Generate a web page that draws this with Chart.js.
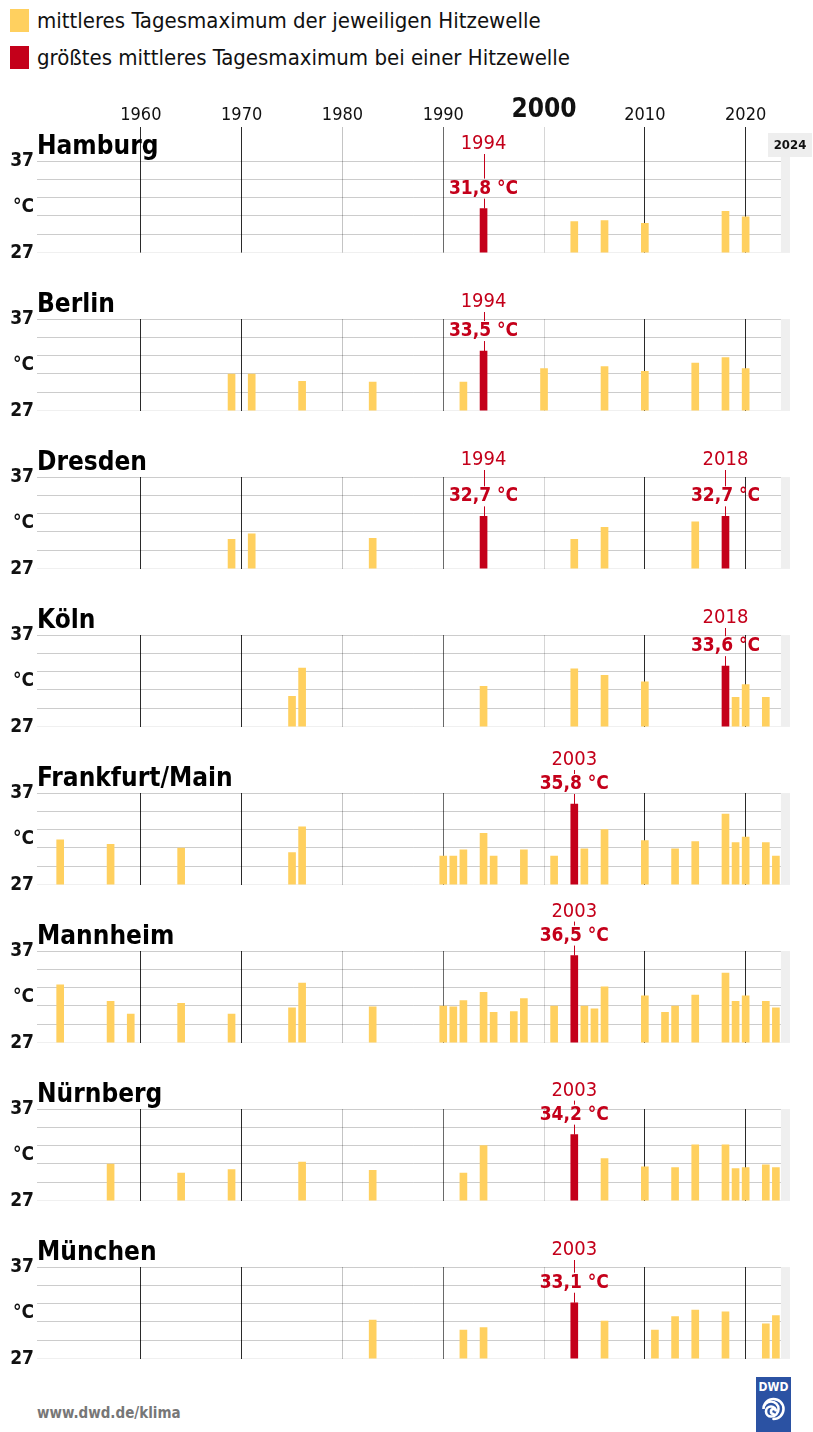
<!DOCTYPE html>
<html lang="de">
<head>
<meta charset="utf-8">
<title>Hitzewellen</title>
<script src="https://cdn.jsdelivr.net/npm/chart.js@4.4.1/dist/chart.umd.min.js"></script>
<style>
    html, body {
        margin: 0;
        padding: 0;
        background: #fff;
        font-family: 'DejaVu Sans Condensed', 'DejaVu Sans', sans-serif;
    }
    #page {
        position: relative;
        width: 813px;
        height: 1432px;
        overflow: hidden;
    }
    .legend-row {
        position: absolute;
        left: 10px;
        height: 23px;
        display: flex;
        align-items: center;
        font-size: 22px;
        color: #111;
        white-space: nowrap;
    }
    .legend-row span.box {
        display: inline-block;
        width: 19px;
        height: 23px;
        margin-right: 8px;
    }
    .panel {
        position: absolute;
        left: 0;
        width: 813px;
    }
    #footer {
        position: absolute;
        left: 37px;
        top: 1404px;
        font-size: 15px;
        font-weight: bold;
        color: #777;
    }
    #logo {
        position: absolute;
        left: 756px;
        top: 1377px;
        width: 35px;
        height: 60px;
        background: #2b52a3;
        color: #fff;
        font-weight: bold;
        font-size: 12px;
        text-align: center;
    }
</style>
</head>
<body>
<div id="page">
    <div class="legend-row" style="top: 9px;"><span class="box" style="background:#ffd05f"></span>mittleres Tagesmaximum der jeweiligen Hitzewelle</div>
    <div class="legend-row" style="top: 46px;"><span class="box" style="background:#c4001a"></span>größtes mittleres Tagesmaximum bei einer Hitzewelle</div>
    <div id="panels"></div>
    <div id="footer">www.dwd.de/klima</div>
    <div id="logo">
        <div style="padding-top:3px;">DWD</div>
        <svg width="35" height="40" viewBox="0 0 35 40">
            <path d="M17.5 20 a2.5 2.5 0 1 1 2.5 -2.5 a5 5 0 1 0 -5 5 a7.5 7.5 0 1 0 -7.5 -7.5 a10 10 0 1 1 10 10"
                  fill="none" stroke="#fff" stroke-width="2.6" stroke-linecap="round"/>
        </svg>
    </div>
</div>

<script>
const cities = ['Hamburg', 'Berlin', 'Dresden', 'Köln', 'Frankfurt/Main', 'Mannheim', 'Nürnberg', 'München'];

const hamburgYears = [1994, 2003, 2006, 2010, 2018, 2020];
const hamburgTemps = [31.8, 30.4, 30.5, 30.2, 31.5, 30.9];

const berlinYears = [1969, 1971, 1976, 1983, 1992, 1994, 2000, 2006, 2010, 2015, 2018, 2020];
const berlinTemps = [31.0, 31.0, 30.2, 30.1, 30.1, 33.5, 31.6, 31.8, 31.3, 32.2, 32.8, 31.6];

const dresdenYears = [1969, 1971, 1983, 1994, 2003, 2006, 2015, 2018];
const dresdenTemps = [30.2, 30.8, 30.3, 32.7, 30.2, 31.5, 32.1, 32.7];

const koelnYears = [1975, 1976, 1994, 2003, 2006, 2010, 2018, 2019, 2020, 2022];
const koelnTemps = [30.3, 33.4, 31.4, 33.3, 32.6, 31.9, 33.6, 30.2, 31.6, 30.2];

const frankfurtYears = [1952, 1957, 1964, 1975, 1976, 1990, 1991, 1992, 1994, 1995, 1998, 2001, 2003, 2004,
    2006, 2010, 2013, 2015, 2018, 2019, 2020, 2022, 2023];
const frankfurtTemps = [31.9, 31.4, 31.0, 30.5, 33.3, 30.1, 30.1, 30.8, 32.6, 30.1, 30.8, 30.1, 35.8, 30.9,
    33.0, 31.8, 30.9, 31.7, 34.7, 31.6, 32.2, 31.6, 30.1];

const mannheimYears = [1952, 1957, 1959, 1964, 1969, 1975, 1976, 1983, 1990, 1991, 1992, 1994, 1995, 1997,
    1998, 2001, 2003, 2004, 2005, 2006, 2010, 2012, 2013, 2015, 2018, 2019, 2020, 2022, 2023];
const mannheimTemps = [33.3, 31.5, 30.1, 31.3, 30.1, 30.8, 33.5, 30.9, 31.0, 30.9, 31.6, 32.5, 30.3, 30.4,
    31.8, 31.0, 36.5, 31.0, 30.7, 33.1, 32.1, 30.3, 31.0, 32.2, 34.6, 31.5, 32.1, 31.5, 30.8];

const nuernbergYears = [1957, 1964, 1969, 1976, 1983, 1992, 1994, 2003, 2006, 2010, 2013, 2015, 2018, 2019,
    2020, 2022, 2023];
const nuernbergTemps = [31.0, 30.0, 30.4, 31.2, 30.3, 30.0, 33.0, 34.2, 31.6, 30.7, 30.6, 33.1, 33.1, 30.5,
    30.6, 30.9, 30.6];

const muenchenYears = [1983, 1992, 1994, 2003, 2006, 2011, 2013, 2015, 2018, 2022, 2023];
const muenchenTemps = [31.2, 30.1, 30.4, 33.1, 31.1, 30.1, 31.6, 32.3, 32.1, 30.8, 31.7];

const decadeTicks = [1960, 1970, 1980, 1990, 2000, 2010, 2020];
const currentYear = 2024;
const yMin = 27;
const yMax = 37;

const panelYears = [hamburgYears, berlinYears, dresdenYears, koelnYears, frankfurtYears, mannheimYears,
    nuernbergYears, muenchenYears];
const panelTemps = [hamburgTemps, berlinTemps, dresdenTemps, koelnTemps, frankfurtTemps, mannheimTemps,
    nuernbergTemps, muenchenTemps];

const YELLOW = '#ffd05f';
const RED = '#c4001a';
const FONT = "'DejaVu Sans Condensed', 'DejaVu Sans', sans-serif";

const AREA_TOP = 161;
const PANEL_STEP = 158;
const AREA_HEIGHT = 96;
const AXIS_SPACE = 70;
const TOP_SPACE = 52;
const BOTTOM_SPACE = 10;

const gridColors = {
    1960: '#2a2a2a',
    1970: '#2a2a2a',
    1980: '#c4c4c4',
    1990: '#6a6a6a',
    2000: '#d6d6d6',
    2010: '#2a2a2a',
    2020: '#2a2a2a',
};

function formatTemp(value) {
    return `${value.toFixed(1).replace('.', ',')} °C`;
}

// title, grey band for the running year and the peak annotations
const panelDecor = {
    id: 'panelDecor',
    beforeDatasetsDraw(chart) {
        const { ctx, chartArea, scales } = chart;
        const opts = chart.options.plugins.panelDecor;
        const x0 = scales.x.getPixelForValue(currentYear - 0.5);
        const top = opts.first ? chartArea.top - 24 : chartArea.top;
        ctx.save();
        ctx.fillStyle = '#efefef';
        ctx.fillRect(x0, top, chartArea.right - x0, chartArea.bottom - top);
        ctx.restore();
    },
    afterDraw(chart) {
        const { ctx, chartArea, scales } = chart;
        const opts = chart.options.plugins.panelDecor;
        const years = opts.years;
        const temps = opts.temps;
        const peak = Math.max(...temps);

        ctx.save();

        if (opts.first) {
            const cx = chartArea.right;
            ctx.fillStyle = '#eeeeee';
            ctx.fillRect(cx - 22, chartArea.top - 28, 44, 24);
            ctx.fillStyle = '#111';
            ctx.font = `bold 13px ${FONT}`;
            ctx.textAlign = 'center';
            ctx.textBaseline = 'middle';
            ctx.fillText(String(currentYear), cx, chartArea.top - 15);
        }

        ctx.fillStyle = '#000';
        ctx.font = `bold 26px ${FONT}`;
        ctx.textAlign = 'left';
        ctx.textBaseline = 'alphabetic';
        ctx.fillText(opts.title, chartArea.left, chartArea.top - 7);

        years.forEach((year, i) => {
            if (temps[i] !== peak) {
                return;
            }
            const x = scales.x.getPixelForValue(year);
            const barTop = scales.y.getPixelForValue(temps[i]);
            const valueY = barTop - 20;
            const yearY = Math.min(chartArea.top - 17, valueY - 24);

            ctx.strokeStyle = RED;
            ctx.lineWidth = 1;
            ctx.beginPath();
            ctx.moveTo(Math.round(x) + 0.5, yearY + 10);
            ctx.lineTo(Math.round(x) + 0.5, valueY - 10);
            ctx.moveTo(Math.round(x) + 0.5, valueY + 10);
            ctx.lineTo(Math.round(x) + 0.5, barTop);
            ctx.stroke();

            ctx.fillStyle = RED;
            ctx.textAlign = 'center';
            ctx.textBaseline = 'middle';
            ctx.font = `20px ${FONT}`;
            ctx.fillText(String(year), x, yearY);
            ctx.font = `bold 19px ${FONT}`;
            ctx.fillText(formatTemp(temps[i]), x, valueY);
        });

        ctx.restore();
    },
};

function buildPanel(index) {
    const first = index === 0;
    const years = panelYears[index];
    const temps = panelTemps[index];
    const peak = Math.max(...temps);
    const areaTop = AREA_TOP + index * PANEL_STEP;
    const headSpace = first ? AXIS_SPACE : TOP_SPACE;

    const wrap = document.createElement('div');
    wrap.className = 'panel';
    wrap.style.top = `${areaTop - headSpace}px`;
    wrap.style.height = `${headSpace + AREA_HEIGHT + BOTTOM_SPACE}px`;
    const canvas = document.createElement('canvas');
    wrap.appendChild(canvas);
    document.getElementById('panels').appendChild(wrap);

    return new Chart(canvas.getContext('2d'), {
        type: 'bar',
        data: {
            datasets: [{
                data: years.map((year, i) => ({ x: year, y: temps[i] })),
                backgroundColor: (ctx) => (temps[ctx.dataIndex] === peak ? RED : YELLOW),
                barThickness: 7,
                borderWidth: 0,
            }],
        },
        options: {
            responsive: true,
            maintainAspectRatio: false,
            animation: false,
            layout: {
                padding: {
                    top: first ? 0 : TOP_SPACE,
                    bottom: BOTTOM_SPACE,
                    left: 0,
                    right: 23,
                },
            },
            plugins: {
                legend: { display: false },
                tooltip: { enabled: false },
                panelDecor: {
                    title: cities[index],
                    years,
                    temps,
                    first,
                },
            },
            scales: {
                x: {
                    type: 'linear',
                    position: first ? 'top' : 'bottom',
                    min: 1949.7,
                    max: 2024.4,
                    offset: false,
                    afterBuildTicks: (scale) => {
                        scale.ticks = decadeTicks.map((value) => ({ value }));
                    },
                    afterFit: (scale) => {
                        scale.height = first ? AXIS_SPACE : 0;
                    },
                    border: { display: false },
                    grid: {
                        offset: false,
                        drawTicks: first,
                        tickLength: 34,
                        color: (ctx) => gridColors[ctx.tick && ctx.tick.value] || 'rgba(0,0,0,0)',
                        lineWidth: 1,
                    },
                    ticks: {
                        display: first,
                        autoSkip: false,
                        maxRotation: 0,
                        padding: 1,
                        color: '#111',
                        font: (ctx) => (ctx.tick && ctx.tick.value === 2000
                            ? { family: FONT, size: 26, weight: 'bold' }
                            : { family: FONT, size: 18 }),
                        callback: (value) => String(value),
                    },
                },
                y: {
                    min: yMin,
                    max: yMax,
                    afterFit: (scale) => {
                        scale.width = 37;
                    },
                    border: { display: false },
                    grid: {
                        drawTicks: false,
                        color: (ctx) => {
                            const v = ctx.tick && ctx.tick.value;
                            if (v === yMin) {
                                return 'rgba(0,0,0,0.06)';
                            }
                            return v % 2 === 1 ? 'rgba(0,0,0,0.2)' : 'rgba(0,0,0,0)';
                        },
                    },
                    ticks: {
                        stepSize: 1,
                        autoSkip: false,
                        padding: 3,
                        color: '#111',
                        font: { family: FONT, size: 19, weight: 'bold' },
                        callback: (value) => {
                            if (value === yMax || value === yMin) {
                                return String(value);
                            }
                            if (value === (yMin + yMax) / 2) {
                                return '°C';
                            }
                            return '';
                        },
                    },
                },
            },
        },
        plugins: [panelDecor],
    });
}

document.addEventListener('DOMContentLoaded', () => {
    cities.forEach((city, index) => buildPanel(index));
});
</script>
</body>
</html>
